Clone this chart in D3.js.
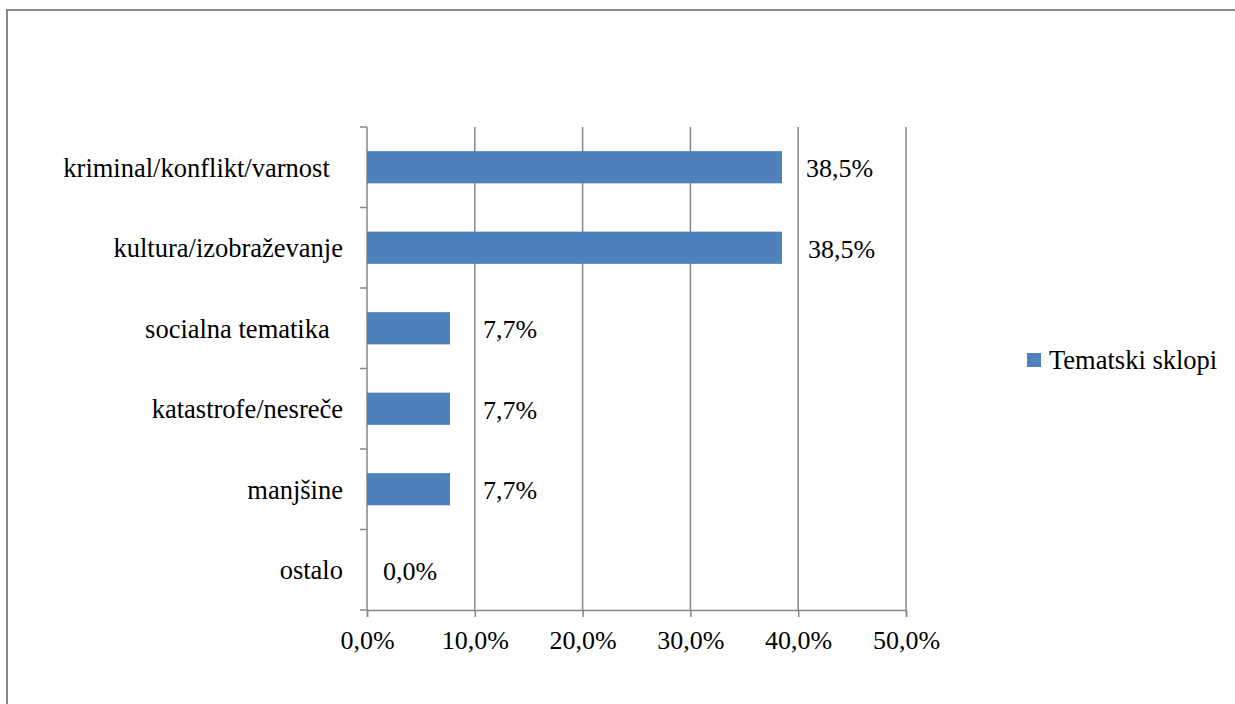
<!DOCTYPE html>
<html>
<head>
<meta charset="utf-8">
<script src="https://cdn.jsdelivr.net/npm/d3@7"></script>
<style>
  html, body { margin: 0; padding: 0; background: #fff; }
  svg { display: block; }
  text { font-family: "Liberation Serif", "Times New Roman", serif; fill: #000; }
</style>
</head>
<body>
<svg id="chart" width="1235" height="704"></svg>
<script>
// ---- data ----
const categories = [
  "kriminal/konflikt/varnost  ",
  "kultura/izobraževanje",
  "socialna tematika  ",
  "katastrofe/nesreče",
  "manjšine",
  "ostalo"
];
const values = [38.5, 38.5, 7.7, 7.7, 7.7, 0.0];
const xTicks = [0, 10, 20, 30, 40, 50];
const seriesName = "Tematski sklopi";

// ---- styling / layout ----
const labelDx = [24, 26, 33, 33, 33, 16];
const barColor = "#4f81bd";
const gridColor = "#878787";
const fontSize = 26;
const catFontSize = 26.5;
const fmt = v => v.toFixed(1).replace(".", ",") + "%";

const svg = d3.select("#chart");

// outer chart border
svg.append("rect")
  .attr("x", 7).attr("y", 10)
  .attr("width", 1240).attr("height", 710)
  .attr("fill", "none")
  .attr("stroke", "#888").attr("stroke-width", 2);

const plot = { left: 367, right: 906, top: 127, bottom: 610 };

const x = d3.scaleLinear().domain([0, 50]).range([plot.left, plot.right]);
const y = d3.scaleBand().domain(categories).range([plot.top, plot.bottom])
  .paddingInner(0.6).paddingOuter(0.3);
const yb = d3.scaleBand().domain(categories).range([plot.top, plot.bottom]);

// gridlines
svg.append("g").selectAll("line")
  .data(xTicks.filter(t => t > 0))
  .join("line")
  .attr("x1", d => x(d)).attr("x2", d => x(d))
  .attr("y1", plot.top).attr("y2", plot.bottom)
  .attr("stroke", gridColor).attr("stroke-width", 1.5);

// x axis
const xAxis = d3.axisBottom(x).tickValues(xTicks).tickSize(7).tickPadding(14)
  .tickFormat(fmt);
const gx = svg.append("g").attr("transform", `translate(0,${plot.bottom})`).call(xAxis);
gx.select(".domain").attr("stroke", gridColor).attr("stroke-width", 1.5);
gx.selectAll(".tick line").attr("stroke", gridColor).attr("stroke-width", 1.5);
gx.selectAll(".tick text")
  .style("font-family", '"Liberation Serif", serif')
  .style("font-size", fontSize + "px").attr("fill", "#000");

// y axis line and ticks at band boundaries
svg.append("line")
  .attr("x1", plot.left).attr("x2", plot.left)
  .attr("y1", plot.top).attr("y2", plot.bottom)
  .attr("stroke", gridColor).attr("stroke-width", 1.5);
const bounds = categories.map(c => yb(c)).concat([plot.bottom]);
svg.append("g").selectAll("line")
  .data(bounds).join("line")
  .attr("x1", plot.left - 7).attr("x2", plot.left)
  .attr("y1", d => d).attr("y2", d => d)
  .attr("stroke", gridColor).attr("stroke-width", 1.5);

// category labels
svg.append("g").selectAll("text")
  .data(categories).join("text")
  .attr("x", plot.left - 24)
  .attr("y", d => yb(d) + yb.bandwidth() / 2)
  .attr("dy", "0.35em")
  .attr("text-anchor", "end")
  .style("white-space", "pre")
  .style("font-size", catFontSize + "px")
  .text(d => d);

// bars
svg.append("g").selectAll("rect")
  .data(values).join("rect")
  .attr("x", x(0))
  .attr("y", (d, i) => y(categories[i]))
  .attr("width", d => x(d) - x(0))
  .attr("height", y.bandwidth())
  .attr("fill", barColor);

// data labels
svg.append("g").selectAll("text")
  .data(values).join("text")
  .attr("x", (d, i) => x(d) + labelDx[i])
  .attr("y", (d, i) => yb(categories[i]) + yb.bandwidth() / 2 + 1)
  .attr("dy", "0.35em")
  .style("font-size", fontSize + "px")
  .text(d => fmt(d));

// legend
const lg = svg.append("g").attr("transform", "translate(1027,353)");
lg.append("rect").attr("width", 14).attr("height", 14).attr("fill", barColor);
lg.append("text").attr("x", 22).attr("y", 7).attr("dy", "0.35em")
  .style("font-size", catFontSize + "px").text(seriesName);
</script>
</body>
</html>
